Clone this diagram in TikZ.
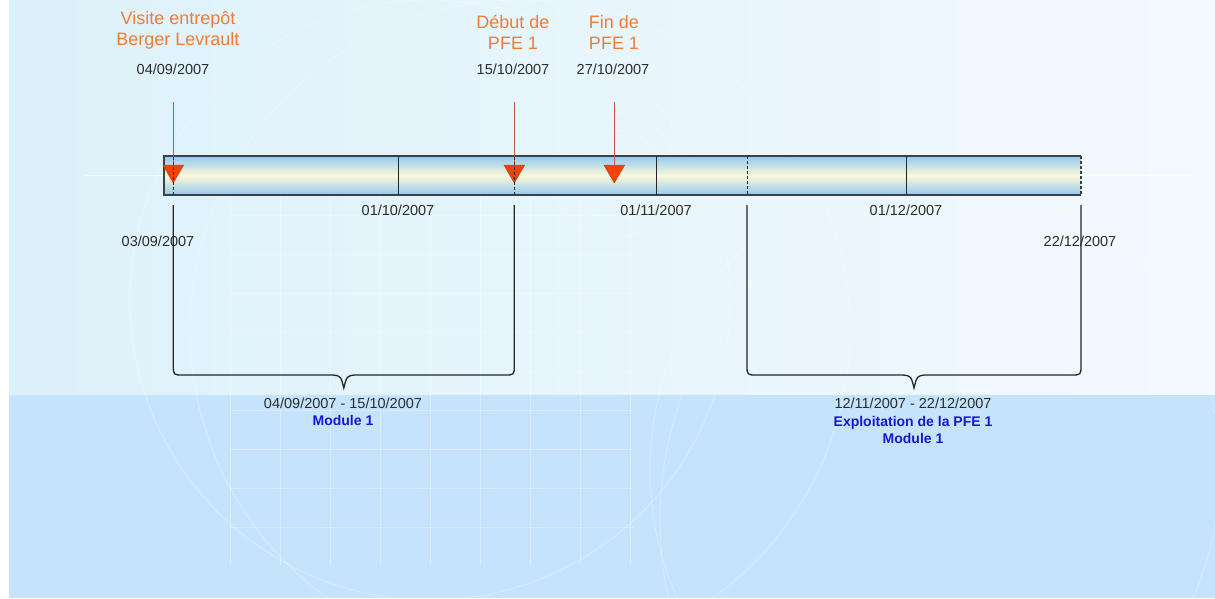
\documentclass[tikz,border=0pt]{standalone}
\usepackage{fontspec}
\setmainfont{Liberation Sans}
\usetikzlibrary{calc, shapes.geometric}

\definecolor{fondHaut}{HTML}{DDF1FA}
\definecolor{fondHautDroit}{HTML}{F2FAFE}
\definecolor{fondBas}{HTML}{C6E3FC}
\definecolor{barreBleu}{HTML}{92C8EE}
\definecolor{barreCreme}{HTML}{FBF9DA}
\definecolor{orangeTitre}{HTML}{EF7D36}
\definecolor{rougeRepere}{HTML}{F24206}
\definecolor{ligneRepere}{HTML}{C25454}
\definecolor{bleuModule}{HTML}{1818D2}
\definecolor{texteDate}{HTML}{2C2C2C}

\tikzset{
	date/.style = {font=\fontsize{14.5}{16}\selectfont, text=texteDate, inner sep=0pt, anchor=base},
	titre/.style = {font=\fontsize{18}{21}\selectfont, text=orangeTitre, align=center, inner sep=0pt, anchor=base},
	module/.style = {font=\bfseries\fontsize{14}{17}\selectfont, text=bleuModule, align=center, inner sep=0pt, anchor=base},
	repere/.style = {regular polygon, regular polygon sides=3, shape border rotate=180, minimum size=24pt, inner sep=0pt, fill=rougeRepere, draw=rougeRepere!85!black, line width=0.4pt},
	tige/.style = {ligneRepere, line width=1pt},
	accolade/.style = {black!85, line width=1.3pt},
	decor/.style = {white, opacity=0.3, line width=0.8pt}
}

\begin{document}
\begin{tikzpicture}[x=1pt, y=-1pt]
	\useasboundingbox (0,0) rectangle (1215,598);

	% fond
	\begin{scope}
		\fill [white] (0,0) rectangle (1215,598);
		\shade [left color=fondHaut, right color=fondHautDroit] (9,0) rectangle (1215,395);
		\fill [fondBas] (9,395) rectangle (1215,598);
	\end{scope}

	% decor du fond
	\begin{scope}[decor]
		\foreach \x in {230,280,...,630}
			\draw (\x,195) -- (\x,565);
		\foreach \y in {215,254,...,565}
			\draw (230,\y) -- (633,\y);
		\draw [opacity=0.6] (85,175) -- (1195,175);
		\draw (615,175) circle (45);
		\draw (615,175) circle (62);
		\draw (430,300) circle (300);
		\draw (520,330) circle (330);
		\draw (935,470) ellipse (285 and 300);
		\draw (960,520) ellipse (300 and 330);
	\end{scope}

	% barre du temps
	\begin{scope}
		\shade [top color=barreBleu, bottom color=barreBleu, middle color=barreCreme] (164,156) rectangle (1081,195);
		\draw [black!75, line width=1.1pt] (1081,156) -- (164,156) -- (164,195) -- (1081,195);
		\draw [black!75, line width=1.1pt, dash pattern=on 3pt off 2pt] (1081,156) -- (1081,195);
		\foreach \x in {398,656,906}
			\draw [black!85, line width=1pt] (\x,156) -- (\x,195);
		\draw [black!85, line width=1pt, dash pattern=on 3pt off 2pt] (747,156) -- (747,195);
	\end{scope}

	\node [date] (d0110) at (398,215) {01/10/2007};
	\node [date] (d0111) at (656,215) {01/11/2007};
	\node [date] (d0112) at (906,215) {01/12/2007};
	\node [date] (d0309) at (158,246) {03/09/2007};
	\node [date] (d2212) at (1080,246) {22/12/2007};

	% reperes
	\node [titre] (visite) at (178,45) {Visite entrepôt\\Berger Levrault};
	\node [titre] (debut) at (513,49) {Début de\\PFE 1};
	\node [titre] (fin) at (614,49) {Fin de\\PFE 1};
	\node [date] (dVisite) at (173,74) {04/09/2007};
	\node [date] (dDebut) at (513,74) {15/10/2007};
	\node [date] (dFin) at (613,74) {27/10/2007};

	\node [repere] (tVisite) at (173.3,171) {};
	\node [repere] (tDebut) at (514.3,171) {};
	\node [repere] (tFin) at (614.3,171) {};
	\coordinate (hVisite) at (173.3,102);
	\coordinate (hDebut) at (514.3,102);
	\coordinate (hFin) at (614.3,102);
	\draw [tige] (hVisite) -- (tVisite.north);
	\draw [tige] (hDebut) -- (tDebut.north);
	\draw [tige] (hFin) -- (tFin.north);
	\draw [black!85, line width=1pt, dash pattern=on 3pt off 2pt] (173.3,157) -- (173.3,195);
	\draw [black!85, line width=1pt, dash pattern=on 3pt off 2pt] (514.3,157) -- (514.3,195);

	% accolades
	\coordinate (aG1) at (173.3,205);
	\coordinate (aD1) at (514.3,205);
	\coordinate (pointe1) at (343.8,388);
	\coordinate (aG2) at (747,205);
	\coordinate (aD2) at (1081,205);
	\coordinate (pointe2) at (914,388);

	\draw [accolade] (aG1) -- ($(aG1)+(0,160)$) .. controls ($(aG1)+(0,170)$) .. ($(aG1)+(10,170)$)
		-- ($(pointe1)+(-11,-13)$) .. controls ($(pointe1)+(-3,-12)$) .. (pointe1)
		.. controls ($(pointe1)+(3,-12)$) .. ($(pointe1)+(11,-13)$)
		-- ($(aD1)+(-10,170)$) .. controls ($(aD1)+(0,170)$) .. ($(aD1)+(0,160)$) -- (aD1);
	\draw [accolade] (aG2) -- ($(aG2)+(0,160)$) .. controls ($(aG2)+(0,170)$) .. ($(aG2)+(10,170)$)
		-- ($(pointe2)+(-11,-13)$) .. controls ($(pointe2)+(-3,-12)$) .. (pointe2)
		.. controls ($(pointe2)+(3,-12)$) .. ($(pointe2)+(11,-13)$)
		-- ($(aD2)+(-10,170)$) .. controls ($(aD2)+(0,170)$) .. ($(aD2)+(0,160)$) -- (aD2);

	\node [date] (periode1) at (343,408) {04/09/2007 - 15/10/2007};
	\node [module] (module1) at (343,425) {Module 1};
	\node [date] (periode2) at (913,408) {12/11/2007 - 22/12/2007};
	\node [module] (exploitation) at (913,443) {Exploitation de la PFE 1\\Module 1};
\end{tikzpicture}
\end{document}
